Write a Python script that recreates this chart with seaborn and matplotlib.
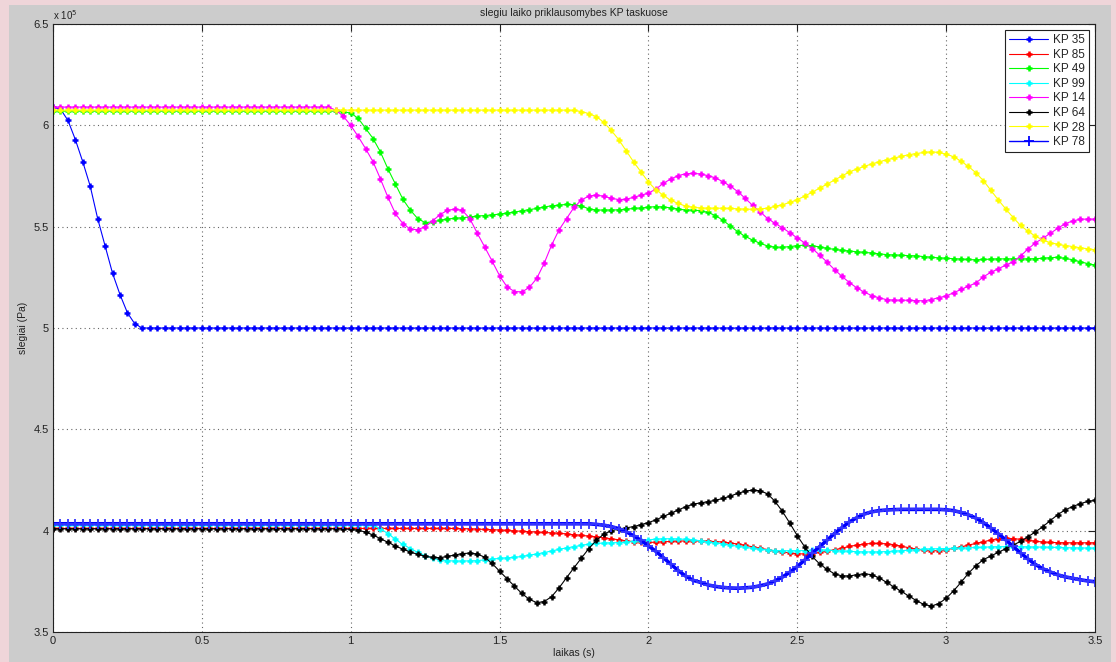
import numpy as np
import pandas as pd
import matplotlib
matplotlib.use('Agg')
import matplotlib.pyplot as plt
import seaborn as sns
from matplotlib.ticker import FuncFormatter, MultipleLocator
from matplotlib.patches import Rectangle

sns.set_style('white')
plt.rcParams['font.family'] = ['Liberation Sans', 'DejaVu Sans']

# time grid (s), one sample every 0.025 s
TIME = np.round(np.arange(141) * 0.025, 3)

# pressures, in units of 1e5 Pa
KP35 = [
    6.09, 6.08, 6.025, 5.93, 5.82, 5.70, 5.54, 5.405, 5.27, 5.165,
    5.075, 5.02, 5.00, 5.00, 5.00, 5.00, 5.00, 5.00, 5.00, 5.00,
    5.00, 5.00, 5.00, 5.00, 5.00, 5.00, 5.00, 5.00, 5.00, 5.00,
    5.00, 5.00, 5.00, 5.00, 5.00, 5.00, 5.00, 5.00, 5.00, 5.00,
    5.00, 5.00, 5.00, 5.00, 5.00, 5.00, 5.00, 5.00, 5.00, 5.00,
    5.00, 5.00, 5.00, 5.00, 5.00, 5.00, 5.00, 5.00, 5.00, 5.00,
    5.00, 5.00, 5.00, 5.00, 5.00, 5.00, 5.00, 5.00, 5.00, 5.00,
    5.00, 5.00, 5.00, 5.00, 5.00, 5.00, 5.00, 5.00, 5.00, 5.00,
    5.00, 5.00, 5.00, 5.00, 5.00, 5.00, 5.00, 5.00, 5.00, 5.00,
    5.00, 5.00, 5.00, 5.00, 5.00, 5.00, 5.00, 5.00, 5.00, 5.00,
    5.00, 5.00, 5.00, 5.00, 5.00, 5.00, 5.00, 5.00, 5.00, 5.00,
    5.00, 5.00, 5.00, 5.00, 5.00, 5.00, 5.00, 5.00, 5.00, 5.00,
    5.00, 5.00, 5.00, 5.00, 5.00, 5.00, 5.00, 5.00, 5.00, 5.00,
    5.00, 5.00, 5.00, 5.00, 5.00, 5.00, 5.00, 5.00, 5.00, 5.00,
    5.00,
]

KP85 = [
    4.011, 4.011, 4.011, 4.011, 4.011, 4.011, 4.011, 4.011, 4.011, 4.011,
    4.011, 4.011, 4.011, 4.011, 4.011, 4.011, 4.011, 4.011, 4.011, 4.011,
    4.011, 4.011, 4.011, 4.011, 4.011, 4.011, 4.011, 4.011, 4.011, 4.011,
    4.011, 4.011, 4.011, 4.011, 4.011, 4.011, 4.011, 4.011, 4.011, 4.011,
    4.011, 4.011, 4.011, 4.011, 4.011, 4.011, 4.011, 4.011, 4.011, 4.011,
    4.011, 4.011, 4.011, 4.011, 4.011,
    4.010, 4.009, 4.008, 4.006, 4.005, 4.003, 4.001, 3.999, 3.997, 3.995,
    3.993, 3.991, 3.989, 3.987, 3.984, 3.980, 3.977, 3.973, 3.970, 3.965,
    3.960, 3.955, 3.950, 3.946, 3.944, 3.942, 3.943, 3.945, 3.947, 3.949,
    3.949, 3.949, 3.949, 3.948, 3.946, 3.944, 3.939, 3.934, 3.928, 3.920,
    3.913, 3.907, 3.900, 3.895, 3.890, 3.886, 3.885, 3.887, 3.893, 3.899,
    3.906, 3.914, 3.922, 3.929, 3.934, 3.937, 3.937, 3.935, 3.931, 3.923,
    3.916, 3.909, 3.903, 3.901, 3.901, 3.906, 3.913, 3.920, 3.929, 3.937,
    3.945, 3.954, 3.960, 3.962, 3.961, 3.957, 3.953, 3.948, 3.944, 3.942,
    3.941, 3.940, 3.940, 3.940, 3.940, 3.940,
]

KP49 = [
    6.07, 6.07, 6.07, 6.07, 6.07, 6.07, 6.07, 6.07, 6.07, 6.07,
    6.07, 6.07, 6.07, 6.07, 6.07, 6.07, 6.07, 6.07, 6.07, 6.07,
    6.07, 6.07, 6.07, 6.07, 6.07, 6.07, 6.07, 6.07, 6.07, 6.07,
    6.07, 6.07, 6.07, 6.07, 6.07, 6.07, 6.07, 6.07, 6.07, 6.068,
    6.060, 6.035, 5.985, 5.935, 5.868, 5.785, 5.710, 5.636, 5.582, 5.540,
    5.520, 5.524, 5.531, 5.538, 5.541, 5.544, 5.548, 5.552, 5.555, 5.558,
    5.562, 5.567, 5.572, 5.578, 5.584, 5.590, 5.597, 5.603, 5.606, 5.610,
    5.609, 5.602, 5.588, 5.582, 5.582, 5.582, 5.583, 5.586, 5.590, 5.592,
    5.596, 5.599, 5.597, 5.593, 5.587, 5.582, 5.581, 5.579, 5.570, 5.555,
    5.532, 5.503, 5.475, 5.452, 5.434, 5.418, 5.405, 5.399, 5.398, 5.402,
    5.406, 5.409, 5.406, 5.400, 5.393, 5.388, 5.383, 5.380, 5.376, 5.373,
    5.370, 5.366, 5.362, 5.360, 5.359, 5.357, 5.356, 5.352, 5.349, 5.346,
    5.344, 5.342, 5.340, 5.338, 5.336, 5.338, 5.340, 5.341, 5.341, 5.341,
    5.341, 5.341, 5.342, 5.344, 5.347, 5.349, 5.343, 5.337, 5.327, 5.318,
    5.310,
]

KP99 = [
    4.03, 4.03, 4.03, 4.03, 4.03, 4.03, 4.03, 4.03, 4.03, 4.03,
    4.03, 4.03, 4.03, 4.03, 4.03, 4.03, 4.03, 4.03, 4.03, 4.03,
    4.03, 4.03, 4.03, 4.03, 4.03, 4.03, 4.03, 4.03, 4.03, 4.03,
    4.03, 4.03, 4.03, 4.03, 4.03, 4.03, 4.03, 4.03, 4.03, 4.03,
    4.03, 4.03, 4.03,
    4.027, 4.010, 3.985, 3.958, 3.932, 3.912, 3.893, 3.877, 3.864, 3.857,
    3.852, 3.850, 3.850, 3.851, 3.852, 3.856, 3.860, 3.863, 3.866, 3.868,
    3.873, 3.879, 3.885, 3.892, 3.900, 3.908, 3.915, 3.921, 3.928, 3.933,
    3.937, 3.939, 3.940, 3.941, 3.943, 3.947, 3.951, 3.955, 3.958, 3.960,
    3.960, 3.959, 3.957, 3.955, 3.950, 3.945, 3.940, 3.935, 3.929, 3.923,
    3.918, 3.913, 3.908, 3.905, 3.902, 3.901, 3.901, 3.901, 3.902, 3.903,
    3.905, 3.904, 3.902, 3.900, 3.898, 3.896, 3.895, 3.895, 3.895, 3.897,
    3.899, 3.901, 3.904, 3.907, 3.909, 3.910, 3.911, 3.912, 3.913, 3.914,
    3.915, 3.917, 3.918, 3.920, 3.921, 3.921, 3.921, 3.921, 3.920, 3.919,
    3.919, 3.918, 3.917, 3.916, 3.915, 3.915, 3.914, 3.914,
]

KP14 = [
    6.09, 6.09, 6.09, 6.09, 6.09, 6.09, 6.09, 6.09, 6.09, 6.09,
    6.09, 6.09, 6.09, 6.09, 6.09, 6.09, 6.09, 6.09, 6.09, 6.09,
    6.09, 6.09, 6.09, 6.09, 6.09, 6.09, 6.09, 6.09, 6.09, 6.09,
    6.09, 6.09, 6.09, 6.09, 6.09, 6.09, 6.09, 6.09,
    6.075, 6.045, 6.000, 5.945, 5.885, 5.820, 5.735, 5.645, 5.565, 5.515,
    5.488, 5.485, 5.500, 5.528, 5.560, 5.580, 5.587, 5.580, 5.540, 5.468,
    5.400, 5.330, 5.258, 5.203, 5.180, 5.178, 5.200, 5.245, 5.320, 5.410,
    5.485, 5.540, 5.595, 5.632, 5.651, 5.656, 5.650, 5.640, 5.634, 5.635,
    5.645, 5.655, 5.666, 5.685, 5.714, 5.735, 5.752, 5.761, 5.763, 5.760,
    5.752, 5.741, 5.722, 5.700, 5.673, 5.640, 5.605, 5.574, 5.540, 5.517,
    5.494, 5.470, 5.444, 5.420, 5.392, 5.360, 5.325, 5.288, 5.255, 5.224,
    5.198, 5.177, 5.160, 5.149, 5.140, 5.137, 5.137, 5.137, 5.135, 5.134,
    5.140, 5.150, 5.158, 5.174, 5.190, 5.207, 5.222, 5.252, 5.275, 5.292,
    5.310, 5.327, 5.355, 5.390, 5.420, 5.443, 5.467, 5.492, 5.515, 5.528,
    5.537, 5.537, 5.537,
]

KP64 = [
    4.009, 4.009, 4.009, 4.009, 4.009, 4.009, 4.009, 4.009, 4.009, 4.009,
    4.009, 4.009, 4.009, 4.009, 4.009, 4.009, 4.009, 4.009, 4.009, 4.009,
    4.009, 4.009, 4.009, 4.009, 4.009, 4.009, 4.009, 4.009, 4.009, 4.009,
    4.009, 4.009, 4.009, 4.009, 4.009, 4.009, 4.009, 4.009, 4.009, 4.009,
    4.006, 4.002, 3.993, 3.979, 3.960, 3.943, 3.924, 3.909, 3.895, 3.883,
    3.874, 3.868, 3.867, 3.873, 3.880, 3.887, 3.889, 3.885, 3.869, 3.838,
    3.800, 3.763, 3.726, 3.690, 3.661, 3.645, 3.650, 3.675, 3.718, 3.768,
    3.817, 3.865, 3.912, 3.952, 3.983, 4.000, 4.008, 4.014, 4.020, 4.030,
    4.040, 4.053, 4.070, 4.086, 4.102, 4.118, 4.131, 4.137, 4.143, 4.150,
    4.159, 4.171, 4.184, 4.195, 4.200, 4.197, 4.182, 4.145, 4.095, 4.037,
    3.975, 3.920, 3.873, 3.836, 3.809, 3.787, 3.777, 3.776, 3.783, 3.787,
    3.783, 3.767, 3.745, 3.722, 3.700, 3.677, 3.655, 3.636, 3.628, 3.640,
    3.666, 3.703, 3.745, 3.790, 3.827, 3.857, 3.875, 3.893, 3.911, 3.929,
    3.947, 3.970, 3.994, 4.020, 4.050, 4.079, 4.103, 4.119, 4.133, 4.144,
    4.150,
]

KP28 = [
    6.075, 6.075, 6.075, 6.075, 6.075, 6.075, 6.075, 6.075, 6.075, 6.075,
    6.075, 6.075, 6.075, 6.075, 6.075, 6.075, 6.075, 6.075, 6.075, 6.075,
    6.075, 6.075, 6.075, 6.075, 6.075, 6.075, 6.075, 6.075, 6.075, 6.075,
    6.075, 6.075, 6.075, 6.075, 6.075, 6.075, 6.075, 6.075, 6.075, 6.075,
    6.075, 6.075, 6.075, 6.075, 6.075, 6.075, 6.075, 6.075, 6.075, 6.075,
    6.075, 6.075, 6.075, 6.075, 6.075, 6.075, 6.075, 6.075, 6.075, 6.075,
    6.075, 6.075, 6.075, 6.075, 6.075, 6.075, 6.075, 6.075, 6.075, 6.075,
    6.074, 6.068, 6.058, 6.043, 6.015, 5.975, 5.930, 5.875, 5.820, 5.770,
    5.720, 5.682, 5.655, 5.630, 5.615, 5.601, 5.596, 5.592, 5.591, 5.591,
    5.591, 5.590, 5.588, 5.586, 5.586, 5.588, 5.591, 5.600, 5.608, 5.620,
    5.633, 5.651, 5.670, 5.690, 5.710, 5.730, 5.750, 5.770, 5.785, 5.797,
    5.810, 5.820, 5.830, 5.839, 5.847, 5.855, 5.861, 5.866, 5.869, 5.866,
    5.858, 5.845, 5.823, 5.797, 5.766, 5.727, 5.680, 5.632, 5.588, 5.545,
    5.506, 5.477, 5.453, 5.434, 5.421, 5.413, 5.407, 5.402, 5.396, 5.391,
    5.386,
]

KP78 = [
    4.034, 4.034, 4.034, 4.034, 4.034, 4.034, 4.034, 4.034, 4.034, 4.034,
    4.034, 4.034, 4.034, 4.034, 4.034, 4.034, 4.034, 4.034, 4.034, 4.034,
    4.034, 4.034, 4.034, 4.034, 4.034, 4.034, 4.034, 4.034, 4.034, 4.034,
    4.034, 4.034, 4.034, 4.034, 4.034, 4.034, 4.034, 4.034, 4.034, 4.034,
    4.034, 4.034, 4.034, 4.034, 4.034, 4.034, 4.034, 4.034, 4.034, 4.034,
    4.034, 4.034, 4.034, 4.034, 4.034, 4.034, 4.034, 4.034, 4.034, 4.034,
    4.034, 4.034, 4.034, 4.034, 4.034, 4.034, 4.034, 4.034, 4.034, 4.034,
    4.034, 4.034, 4.034,
    4.031, 4.027, 4.020, 4.010, 3.995, 3.975, 3.952, 3.925, 3.898, 3.867,
    3.835, 3.803, 3.776, 3.755, 3.745, 3.732, 3.725, 3.720, 3.717, 3.716,
    3.718, 3.721, 3.728, 3.737, 3.752, 3.771, 3.795, 3.823, 3.855, 3.889,
    3.921, 3.953, 3.986, 4.015, 4.043, 4.064, 4.082, 4.093, 4.099, 4.102,
    4.104, 4.105, 4.105, 4.105, 4.105, 4.105, 4.105, 4.103, 4.099, 4.090,
    4.078, 4.062, 4.040, 4.013, 3.985, 3.955, 3.922, 3.890, 3.860, 3.833,
    3.812, 3.796, 3.782, 3.772, 3.765, 3.758, 3.752, 3.748,
]

LABELS = ['KP 35', 'KP 85', 'KP 49', 'KP 99', 'KP 14', 'KP 64', 'KP 28', 'KP 78']
SERIES = [KP35, KP85, KP49, KP99, KP14, KP64, KP28, KP78]
COLORS = ['#0000ff', '#ff0000', '#00ff00', '#00ffff', '#ff00ff', '#000000', '#ffff00', '#0000ff']

for lab, s in zip(LABELS, SERIES):
    assert len(s) == len(TIME), (lab, len(s))

# ── Figure ────────────────────────────────────────────────────────────────
W, H = 1116, 662
fig = plt.figure(figsize=(W / 100, H / 100), dpi=100, facecolor='#efd5d9')
fig.patches.append(Rectangle((9 / W, 0), 1102 / W, 657 / H, transform=fig.transFigure,
                             facecolor='#cccccc', edgecolor='none', zorder=-10))
ax = fig.add_axes([53 / W, 30 / H, 1042 / W, 608 / H])
ax.set_facecolor('white')

for lab, vals, col in zip(LABELS, SERIES, COLORS):
    df = pd.DataFrame({'t': TIME, 'p': np.array(vals) * 1e5})
    if lab == 'KP 78':
        # thick trace with crosses, like the MATLAB '+' line
        style = dict(marker='+', markersize=7, markeredgewidth=1.3, linewidth=2.6,
                     markeredgecolor='#3535ff')
    else:
        style = dict(marker='+', markersize=3.8, markeredgewidth=1.8, linewidth=0.8,
                     markeredgecolor=col)
    sns.lineplot(data=df, x='t', y='p', color=col, label=lab, ax=ax,
                 estimator=None, sort=False, **style)

ax.set_xlim(0, 3.5)
ax.set_ylim(3.5e5, 6.5e5)
ax.xaxis.set_major_locator(MultipleLocator(0.5))
ax.yaxis.set_major_locator(MultipleLocator(0.5e5))
ax.xaxis.set_major_formatter(FuncFormatter(lambda v, p: f'{v:g}'))
ax.yaxis.set_major_formatter(FuncFormatter(lambda v, p: f'{v / 1e5:g}'))

ax.grid(True, color='#666666', linestyle=(0, (1, 3)), linewidth=0.8)
ax.tick_params(direction='in', top=True, right=True, length=5, width=0.8,
               labelsize=8, pad=3, colors='#222222')
for sp in ax.spines.values():
    sp.set_color('#222222')
    sp.set_linewidth(0.8)

ax.text(0.0, 1.004, r'x 10$^5$', transform=ax.transAxes, fontsize=7,
        ha='left', va='bottom', color='#222222')
ax.set_title('slegiu laiko priklausomybes KP taskuose', fontsize=7.5, pad=6, color='#222222')
ax.set_xlabel('laikas (s)', fontsize=7.5, labelpad=1, color='#222222')
ax.set_ylabel('slegiai (Pa)', fontsize=7.5, labelpad=4, color='#222222')

leg = ax.legend(loc='upper right', fontsize=8.5, frameon=True, fancybox=False,
                edgecolor='#222222', framealpha=1, borderpad=0.35,
                handlelength=3.3, labelspacing=0.22, handletextpad=0.4)
leg.get_frame().set_linewidth(0.8)
# legend sample of KP 78 is a thin line with a cross, as in the original
leg.get_lines()[-1].set_linewidth(1.0)
leg.get_lines()[-1].set_markeredgecolor('#0000ff')

fig.savefig('out.png', dpi=100, facecolor=fig.get_facecolor())
